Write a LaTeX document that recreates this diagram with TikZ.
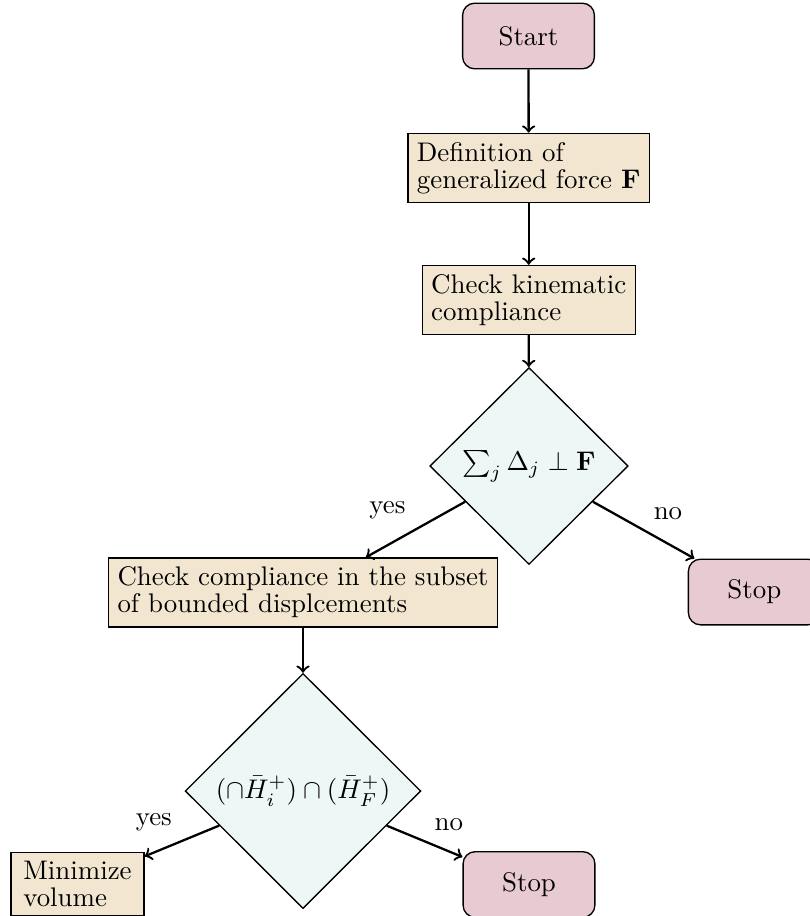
\documentclass[tikz,border=0pt]{standalone}
\usetikzlibrary{shapes.geometric}
\definecolor{termfill}{RGB}{232,202,211}
\definecolor{procfill}{RGB}{242,230,209}
\definecolor{decfill}{RGB}{237,247,245}
\begin{document}
\begin{tikzpicture}[x=0.3717pt,y=-0.3717pt,
  terminal/.style={draw, line width=0.5pt, rounded corners=4.5pt, fill=termfill,
    minimum width=49pt, minimum height=24.4pt},
  process/.style={draw, line width=0.5pt, fill=procfill, align=left,
    font=\fontsize{10pt}{10pt}\selectfont},
  decision/.style={draw, line width=0.5pt, diamond, fill=decfill, inner sep=0.5pt},
  flow/.style={->, line width=0.85pt},
  lbl/.style={midway}]
  \useasboundingbox (0,0) rectangle (809,916);

  \node[terminal] (start) at (528.5,36) {Start};
  \node[process] (force) at (528.7,168) {Definition of\\generalized force $\mathbf{F}$};
  \node[process] (kin) at (528.7,300) {Check kinematic\\compliance};
  \node[decision, minimum width=73.7pt, minimum height=73.2pt] (d1) at (529,466)
    {$\sum_j \Delta_j \perp \mathbf{F}$};
  \node[process] (cc) at (303,592.5) {Check compliance in the subset\\of bounded displcements};
  \node[terminal] (stop1) at (754.3,592) {Stop};
  \node[decision, minimum width=87.6pt, minimum height=87.4pt] (d2) at (303,791)
    {$(\cap\bar{H}_i^+)\cap(\bar{H}_F^+)$};
  \node[process, minimum width=49.4pt] (minv) at (77.5,884) {Minimize\\volume};
  \node[terminal] (stop2) at (529,884.5) {Stop};

  \draw[flow] (start) -- (force);
  \draw[flow] (force) -- (kin);
  \draw[flow] (kin) -- (d1);
  \draw[flow] (d1) -- node[lbl, above left] {yes} (cc);
  \draw[flow] (d1) -- node[lbl, above right] {no} (stop1);
  \draw[flow] (cc) -- (d2);
  \draw[flow] (d2) -- node[lbl, above left] {yes} (minv);
  \draw[flow] (d2) -- node[lbl, above right] {no} (stop2);
\end{tikzpicture}
\end{document}
